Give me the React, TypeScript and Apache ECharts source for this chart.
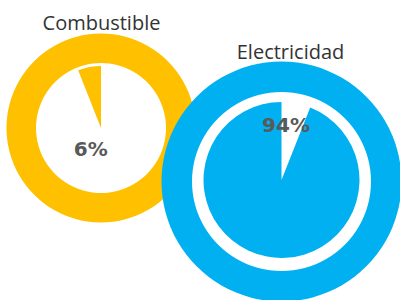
import React, { useEffect, useRef } from "react";
import * as echarts from "echarts";

const categories = ["Combustible", "Electricidad"];
const shares = [6, 94];
const colors = ["#FFC000", "#00B0F0"];

export default function App() {
  const ref = useRef<HTMLDivElement>(null);
  useEffect(() => {
    if (!ref.current) return;
    const chart = echarts.init(ref.current, null, { renderer: "svg" });
    const base = {
      type: "pie",
      silent: true,
      label: { show: false },
      labelLine: { show: false },
      emphasis: { disabled: true },
      itemStyle: { borderWidth: 0 },
      avoidLabelOverlap: false,
      minAngle: 0,
    };
    const leftC = [101, 128];
    const rightRingC = [281.5, 181.5];
    const rightPieC = [281.5, 180];
    const rest = (v: number) => 100 - v;
    chart.setOption({
      animation: false,
      series: [
        {
          ...base,
          center: leftC,
          radius: [65, 94.5],
          data: [{ value: 1, name: categories[0], itemStyle: { color: colors[0] } }],
        },
        {
          ...base,
          center: leftC,
          radius: [0, 62],
          startAngle: 90,
          clockwise: false,
          data: [
            { value: shares[0], name: categories[0], itemStyle: { color: colors[0] } },
            { value: rest(shares[0]), name: "resto", itemStyle: { color: "rgba(0,0,0,0)" } },
          ],
        },
        {
          ...base,
          center: rightRingC,
          radius: [0, 120],
          data: [{ value: 1, name: categories[1], itemStyle: { color: colors[1] } }],
        },
        {
          ...base,
          center: rightRingC,
          radius: [0, 89.5],
          data: [{ value: 1, name: "blanco", itemStyle: { color: "#ffffff" } }],
        },
        {
          ...base,
          center: rightPieC,
          radius: [0, 78],
          startAngle: 90,
          clockwise: true,
          data: [
            { value: rest(shares[1]), name: "resto", itemStyle: { color: "#ffffff" } },
            { value: shares[1], name: categories[1], itemStyle: { color: colors[1] } },
          ],
        },
      ],
      graphic: [
        {
          type: "text",
          x: 101.5,
          y: 22.5,
          style: {
            text: categories[0],
            fill: "#333333",
            font: '20px "Open Sans"',
            textAlign: "center",
            textVerticalAlign: "middle",
          },
        },
        {
          type: "text",
          x: 290.5,
          y: 51.5,
          style: {
            text: categories[1],
            fill: "#333333",
            font: '20px "Open Sans"',
            textAlign: "center",
            textVerticalAlign: "middle",
          },
        },
        {
          type: "text",
          x: 90.7,
          y: 149,
          z: 100,
          style: {
            text: shares[0] + "%",
            fill: "#595959",
            font: 'bold 20px "DejaVu Sans"',
            textAlign: "center",
            textVerticalAlign: "middle",
          },
        },
        {
          type: "text",
          x: 286,
          y: 125,
          z: 100,
          style: {
            text: shares[1] + "%",
            fill: "#595959",
            font: 'bold 20px "DejaVu Sans"',
            textAlign: "center",
            textVerticalAlign: "middle",
          },
        },
      ],
    });
    return () => chart.dispose();
  }, []);
  return (
    <div
      ref={ref}
      style={{ position: "fixed", left: 0, top: 0, width: 400, height: 300, background: "#fff" }}
    />
  );
}
